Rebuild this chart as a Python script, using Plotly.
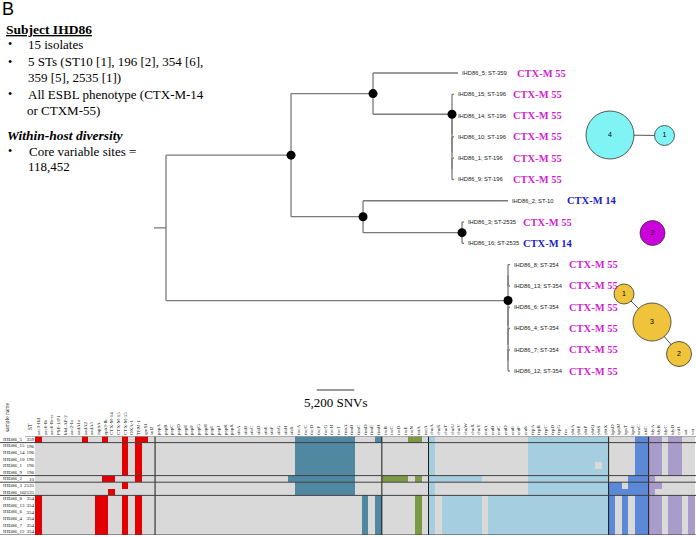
import plotly.graph_objects as go

W, H = 696, 537

# ---------------------------------------------------------------- data
isolates = ["IHD86_5", "IHD86_15", "IHD86_14", "IHD86_10", "IHD86_1", "IHD86_9",
            "IHD86_2", "IHD86_3", "IHD86_16", "IHD86_8", "IHD86_13", "IHD86_6",
            "IHD86_4", "IHD86_7", "IHD86_12"]
sequence_types = ["359", "196", "196", "196", "196", "196", "10", "2535", "2535",
                  "354", "354", "354", "354", "354", "354"]
esbl_variant = ["CTX-M 55", "CTX-M 55", "CTX-M 55", "CTX-M 55", "CTX-M 55", "CTX-M 55",
                "CTX-M 14", "CTX-M 55", "CTX-M 14", "CTX-M 55", "CTX-M 55", "CTX-M 55",
                "CTX-M 55", "CTX-M 55", "CTX-M 55"]

# core-genome tree, branch lengths in SNVs
newick = ("(((IHD86_5:11755,(IHD86_15:280,(IHD86_14:280,(IHD86_10:280,"
          "(IHD86_1:280,IHD86_9:280):0):0):0)C:10925)B:11340,"
          "(IHD86_2:20050,(IHD86_3:280,IHD86_16:280)E:13690)D:9960)A:17290,"
          "((IHD86_8:280,IHD86_13:280):0,(IHD86_6:280,(IHD86_4:280,"
          "(IHD86_7:280,IHD86_12:280):0):0):0)F:47300)root;")
scale_bar_snvs = 5200

# gene panel (heat-map columns), grouped
resistance_genes = ["aac3-IId", "aac6-Ib", "aac6-Ib-cr", "PSE-1/P1", "blaLAP-2", "aac2-Ia",
                    "aadA1a", "aadA2", "aadA5", "mphA", "aph3-Ib", "CTX-M-14", "CTX-M-15",
                    "CTX-M-55", "OXA-1", "TEM-1", "qnrS1", "sul2"]
adhesin_genes = ["papA", "papB", "papC", "papD", "papE", "papF", "papG", "papH", "papI",
                 "papJ", "papK", "papX", "sfaA", "sfaB", "sfaC", "sfaD", "sfaE", "sfaF",
                 "sfaG", "sfaH", "sfaS", "focA", "focC", "focD", "focF", "focG", "focH",
                 "focI", "fimA", "fimB", "fimC", "fimD", "fimE", "fimH"]
salmochelin_genes = ["iroB", "iroC", "iroD", "iroE", "iroN", "iutA", "iucA"]
iron_genes = ["chuA", "chuS", "chuT", "chuU", "chuV", "chuW", "chuX", "chuY", "entA", "entB",
              "entC", "entD", "entE", "entF", "entS", "fepA", "fepB", "fepC", "fepD", "fepG",
              "fes", "ybtA", "ybtE", "ybtP", "ybtQ", "ybtS", "ybtX"]
capsule_genes = ["kpsD", "kpsM", "kpsT", "kpsE", "neuC", "kfiC"]
toxin_genes = ["hlyA", "hlyB", "hlyC", "hlyD", "cnf1", "sat", "vat"]

# presence (1) / absence (0) per isolate, one block per gene group (same order as above)
presence = {
    "IHD86_5":  "100000010010010110 0000000000000000000001111111110001 0000110 100000000000000111111111111 000011 1101100",
    "IHD86_15": "000000000000010100 0000000000000000000001111111110000 0000000 100000000000000111111111111 000011 1101100",
    "IHD86_14": "000000000000010100 0000000000000000000001111111110000 0000000 100000000000000111111111111 000011 1101100",
    "IHD86_10": "000000000000010100 0000000000000000000001111111110000 0000000 100000000000000111111111111 000011 1101100",
    "IHD86_1":  "000000000000010100 0000000000000000000001111111110000 0000000 100000000000000111111111101 000011 1101100",
    "IHD86_9":  "000000000000010100 0000000000000000000001111111110000 0000000 100000000000000111111111111 000011 1101100",
    "IHD86_2":  "000000000011000100 0000000000000000000011111111110000 1111010 111111110000000111111111111 000111 1000000",
    "IHD86_3":  "000000000000010000 0000000000000000000001111111110000 0000000 100000000000000111111111111 110111 1100000",
    "IHD86_16": "000000000001000000 0000000000000000000001111111110000 0000000 100000000000000111111111111 111111 1000000",
    "IHD86_8":  "100000000110010100 0000000000000000000000000000000101 0000010 101111110111111111111111111 101011 1101101",
    "IHD86_13": "100000000110010100 0000000000000000000000000000000101 0000010 101111110111111111111111111 101011 1101101",
    "IHD86_6":  "100000000110010100 0000000000000000000000000000000101 0000010 101111110111111111111111111 101011 1101101",
    "IHD86_4":  "100000000110010100 0000000000000000000000000000000101 0000010 101111110111111111111111111 101011 1101101",
    "IHD86_7":  "100000000110010100 0000000000000000000000000000000101 0000010 101111110111111111111111111 101011 1101101",
    "IHD86_12": "100000000110010100 0000000000000000000000000000000101 0000010 101111110111111111111111111 101011 1101101",
}

# clusters of isolates (node = number of isolates, edges between nodes)
cluster_counts = {"cyan": [4, 1], "magenta": [2], "yellow": [1, 3, 2]}
cluster_edges = {"cyan": [(0, 1)], "magenta": [], "yellow": [(0, 1), (1, 2)]}

# ---------------------------------------------------------------- styles / layout
gene_groups = [resistance_genes, adhesin_genes, salmochelin_genes, iron_genes,
               capsule_genes, toxin_genes]
group_colors = ["#e30000", "#4f88a0", "#7c9a46", "#a5cfe0", "#5b89d8", "#a99ccb"]
absent_color = "#d9d9d9"
ctx_colors = {"CTX-M 55": "#d21fd2", "CTX-M 14": "#1c1cc8"}
cluster_fill = {"cyan": "#80f4f4", "magenta": "#cc00dd", "yellow": "#f0c43a"}
cluster_pos = {"cyan": [(610, 135), (664.5, 135.5)], "magenta": [(652.5, 233)],
               "yellow": [(624, 294), (652, 322), (679, 354)]}
size_for_count = {1: 20, 2: 25, 3: 38, 4: 48}

SERIF = "Liberation Serif"
SANS = "Liberation Sans"


def px(x):
    return x / W


def py(y):
    return 1 - y / H


# ---------------------------------------------------------------- tree parse / layout
def parse_newick(s):
    pos = 0

    def node():
        nonlocal pos
        children = []
        if s[pos] == "(":
            pos += 1
            while True:
                children.append(node())
                if s[pos] == ",":
                    pos += 1
                    continue
                if s[pos] == ")":
                    pos += 1
                    break
        start = pos
        while pos < len(s) and s[pos] not in ":,);":
            pos += 1
        name = s[start:pos]
        length = 0.0
        if pos < len(s) and s[pos] == ":":
            pos += 1
            start = pos
            while s[pos] not in ",);":
                pos += 1
            length = float(s[start:pos])
        return {"name": name, "len": length, "children": children}

    return node()


tree = parse_newick(newick)
leaf_counter = [0]


def layout(n, x0):
    n["x"] = x0 + n["len"]
    if not n["children"]:
        n["y"] = leaf_counter[0]
        leaf_counter[0] += 1
    else:
        for c in n["children"]:
            layout(c, n["x"])
        n["y"] = sum(c["y"] for c in n["children"]) / len(n["children"])


tree["len"] = 0
layout(tree, 0)

lx, ly, dots_x, dots_y, leaves = [], [], [], [], []


def collect(n):
    if n["children"]:
        ys = [c["y"] for c in n["children"]]
        lx.extend([n["x"], n["x"], None])
        ly.extend([min(ys), max(ys), None])
        for c in n["children"]:
            lx.extend([n["x"], c["x"], None])
            ly.extend([c["y"], c["y"], None])
            collect(c)
        if n["name"] and n["name"] != "root":
            dots_x.append(n["x"])
            dots_y.append(n["y"])
    else:
        leaves.append(n)


collect(tree)
snv_per_px = scale_bar_snvs / 37.6
stub = 12 * snv_per_px
lx.extend([tree["x"] - stub, tree["x"], None])
ly.extend([tree["y"], tree["y"], None])

root_px = 166
leaf_px0, leaf_step = 73, 21.29

fig = go.Figure()

fig.add_trace(go.Scatter(x=lx, y=ly, mode="lines", line=dict(color="#7a7a7a", width=1.3),
                         xaxis="x2", yaxis="y2", hoverinfo="skip", showlegend=False))
fig.add_trace(go.Scatter(x=dots_x, y=dots_y, mode="markers",
                         marker=dict(color="black", size=9), xaxis="x2", yaxis="y2",
                         hoverinfo="skip", showlegend=False))

# scale bar
sb_x0 = (316.7 - root_px) * snv_per_px
sb_y = (390 - leaf_px0) / leaf_step
fig.add_trace(go.Scatter(x=[sb_x0, sb_x0 + scale_bar_snvs], y=[sb_y, sb_y], mode="lines",
                         line=dict(color="#333", width=1), xaxis="x2", yaxis="y2",
                         hoverinfo="skip", showlegend=False))

annotations = []
annotations.append(dict(x=sb_x0 + scale_bar_snvs / 2, y=(402 - leaf_px0) / leaf_step,
                        xref="x2", yref="y2", text=f"{scale_bar_snvs:,} SNVs",
                        showarrow=False, font=dict(family=SERIF, size=13, color="black")))

for lf in leaves:
    i = isolates.index(lf["name"])
    annotations.append(dict(x=lf["x"], y=lf["y"], xref="x2", yref="y2", xanchor="left",
                            xshift=2, text=f"{lf['name']}; ST-{sequence_types[i]}",
                            showarrow=False, font=dict(family=SANS, size=5.8, color="#222")))
    annotations.append(dict(x=lf["x"], y=lf["y"], xref="x2", yref="y2", xanchor="left",
                            xshift=57, text=f"<b>{esbl_variant[i]}</b>", showarrow=False,
                            font=dict(family=SERIF, size=10.5, color=ctx_colors[esbl_variant[i]])))

# ---------------------------------------------------------------- network
for key, counts in cluster_counts.items():
    pos = cluster_pos[key]
    ex, ey = [], []
    for a, b in cluster_edges[key]:
        ex.extend([pos[a][0], pos[b][0], None])
        ey.extend([pos[a][1], pos[b][1], None])
    if ex:
        fig.add_trace(go.Scatter(x=ex, y=ey, mode="lines", line=dict(color="#555", width=1),
                                 xaxis="x4", yaxis="y4", hoverinfo="skip", showlegend=False))
    fig.add_trace(go.Scatter(
        x=[p[0] for p in pos], y=[p[1] for p in pos], mode="markers+text",
        text=[str(c) for c in counts], textposition="middle center",
        textfont=dict(family=SANS, size=7, color="black"),
        marker=dict(size=[size_for_count[c] for c in counts], color=cluster_fill[key],
                    line=dict(color="#333", width=0.8), opacity=1),
        xaxis="x4", yaxis="y4", hoverinfo="skip", showlegend=False))

# ---------------------------------------------------------------- heat map
genes = [g for grp in gene_groups for g in grp]
z = []
for iso in isolates:
    blocks = presence[iso].split()
    row = []
    for gi, (blk, grp) in enumerate(zip(blocks, gene_groups)):
        assert len(blk) == len(grp), (iso, gi, len(blk), len(grp))
        row.extend([gi + 1 if ch == "1" else 0 for ch in blk])
    z.append(row)

ncol = len(genes)
palette = [absent_color] + group_colors
cs = []
for k, c in enumerate(palette):
    cs.append([k / len(palette), c])
    cs.append([(k + 1) / len(palette), c])

fig.add_trace(go.Heatmap(z=z, x=list(range(ncol)), y=list(range(len(isolates))),
                         colorscale=cs, zmin=-0.5, zmax=len(palette) - 0.5, showscale=False,
                         hoverinfo="skip", xaxis="x3", yaxis="y3"))

shapes = []
bounds = []
acc = 0
for grp in gene_groups[:-1]:
    acc += len(grp)
    bounds.append(acc - 0.5)
for b in bounds:
    shapes.append(dict(type="line", xref="x3", yref="y3", x0=b, x1=b, y0=-0.5, y1=len(isolates) - 0.5,
                       line=dict(color="#1a1a1a", width=1)))
# row separators between clades
row_breaks = [0.5, 5.5, 6.5, 8.5, len(isolates) - 0.5]
for yb in row_breaks:
    shapes.append(dict(type="line", xref="paper", yref="y3", x0=0, x1=1, y0=yb, y1=yb,
                       line=dict(color="#404040", width=1)))
shapes.append(dict(type="line", xref="paper", yref="y3", x0=px(25), x1=1, y0=-0.5, y1=-0.5,
                   line=dict(color="#9a9a9a", width=1.5)))

for r, iso in enumerate(isolates):
    annotations.append(dict(x=px(1), y=r, xref="paper", yref="y3", xanchor="left",
                            text=iso, showarrow=False,
                            font=dict(family=SERIF, size=5, color="#111")))
annotations.append(dict(x=px(7), y=py(418), xref="paper", yref="paper", text="sample name",
                        textangle=-90, xanchor="center", yanchor="middle", showarrow=False,
                        font=dict(family=SERIF, size=5.5, color="#111")))
annotations.append(dict(x=px(30), y=py(427), xref="paper", yref="paper", text="ST",
                        textangle=-90, xanchor="center", yanchor="middle", showarrow=False,
                        font=dict(family=SERIF, size=5.5, color="#111")))


# ---------------------------------------------------------------- text block
def note(x, y, text, size=13, family=SERIF):
    annotations.append(dict(x=px(x), y=py(y), xref="paper", yref="paper", xanchor="left",
                            yanchor="middle", text=text, showarrow=False,
                            font=dict(family=family, size=size, color="black")))


note(0, 9, "B", size=18, family=SANS)
note(4, 29, "<u><b>Subject IHD86</b></u>", size=13.5)
bullets = [(44, "15 isolates"), (62, "5 STs (ST10 [1], 196 [2], 354 [6],"),
           (94, "All ESBL phenotype (CTX-M-14")]
for y, t in bullets:
    note(6, y, "•", size=12)
    note(26, y, t)
note(26, 78, "359 [5], 2535 [1])")
note(25, 110, "or CTXM-55)")
note(5, 135, "<b><i>Within-host diversity</i></b>", size=13.5)
note(6, 151, "•", size=12)
note(27, 151, "Core variable sites =")
note(26, 167, "118,452")

# ---------------------------------------------------------------- axes
hidden = dict(visible=False, showgrid=False, zeroline=False)
fig.update_layout(
    width=W, height=H, margin=dict(l=0, r=0, t=0, b=0),
    paper_bgcolor="white", plot_bgcolor="rgba(0,0,0,0)",
    xaxis=dict(domain=[0, 1], range=[0, W], **hidden),
    yaxis=dict(domain=[0, 1], range=[H, 0], **hidden),
    xaxis2=dict(domain=[0, 1], range=[-root_px * snv_per_px, (W - root_px) * snv_per_px],
                anchor="y2", **hidden),
    yaxis2=dict(domain=[0, 1], range=[(H - leaf_px0) / leaf_step, -leaf_px0 / leaf_step],
                anchor="x2", **hidden),
    xaxis3=dict(domain=[px(35), px(35 + 6.67 * ncol)], range=[-0.5, ncol - 0.5], anchor="y3",
                side="top", tickmode="array", tickvals=list(range(ncol)), ticktext=genes,
                tickangle=-90, tickfont=dict(family=SERIF, size=5, color="#111"),
                showgrid=False, zeroline=False, ticks="", showline=False),
    yaxis3=dict(domain=[1 - 535 / H, 1 - 436 / H], range=[len(isolates) - 0.5, -0.5], anchor="x3",
                tickmode="array", tickvals=list(range(len(isolates))), ticktext=sequence_types,
                tickfont=dict(family=SERIF, size=5, color="#111"), showgrid=False,
                zeroline=False, ticks="", showline=False),
    xaxis4=dict(domain=[0, 1], range=[0, W], anchor="y4", overlaying="x", **hidden),
    yaxis4=dict(domain=[0, 1], range=[H, 0], anchor="x4", overlaying="y", **hidden),
    annotations=annotations, shapes=shapes,
)

fig.write_html("out.html", config={"displayModeBar": False},
               post_script="document.body.style.margin='0px';")
